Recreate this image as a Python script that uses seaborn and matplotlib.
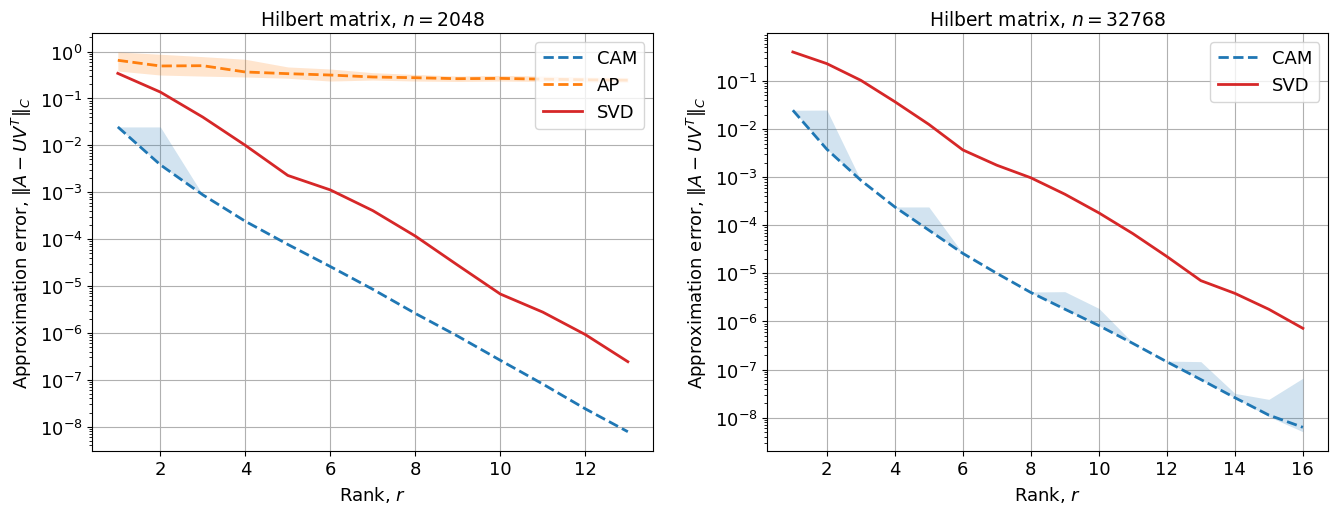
import numpy as np
import pandas as pd
import matplotlib
matplotlib.use("Agg")
import matplotlib.pyplot as plt
from matplotlib.ticker import LogLocator, NullFormatter
import seaborn as sns

# ---- data: left panel (n = 2048) ----
rank_left = [1, 2, 3, 4, 5, 6, 7, 8, 9, 10, 11, 12, 13]
cam_left = [2.47e-2, 3.85e-3, 8.8e-4, 2.4e-4, 7.7e-5, 2.6e-5, 8.5e-6, 2.6e-6,
            8.5e-7, 2.6e-7, 8.1e-8, 2.4e-8, 7.8e-9]
cam_left_hi = [2.47e-2, 2.47e-2, 8.8e-4, 2.4e-4, 7.7e-5, 2.6e-5, 8.5e-6, 2.6e-6,
               8.5e-7, 2.6e-7, 8.1e-8, 2.4e-8, 7.8e-9]
cam_left_lo = [2.47e-2, 3.85e-3, 8.8e-4, 2.4e-4, 7.7e-5, 2.6e-5, 8.5e-6, 2.6e-6,
               8.5e-7, 2.6e-7, 8.1e-8, 2.4e-8, 7.8e-9]
ap_left = [0.652, 0.493, 0.50, 0.367, 0.338, 0.316, 0.287, 0.277, 0.264, 0.268,
           0.258, 0.25, 0.245]
ap_left_hi = [0.98, 0.877, 0.78, 0.685, 0.47, 0.425, 0.355, 0.325, 0.30, 0.31,
              0.30, 0.285, 0.28]
ap_left_lo = [0.385, 0.316, 0.30, 0.287, 0.27, 0.235, 0.247, 0.235, 0.23, 0.235,
              0.23, 0.225, 0.22]
svd_left = [0.343, 0.137, 0.040, 0.010, 2.28e-3, 1.12e-3, 4.05e-4, 1.16e-4,
            2.77e-5, 6.74e-6, 2.77e-6, 9.2e-7, 2.43e-7]

# ---- data: right panel (n = 32768) ----
rank_right = [1, 2, 3, 4, 5, 6, 7, 8, 9, 10, 11, 12, 13, 14, 15, 16]
cam_right = [2.46e-2, 3.8e-3, 8.6e-4, 2.4e-4, 7.9e-5, 2.6e-5, 1.0e-5, 4.0e-6,
             1.8e-6, 8.2e-7, 3.5e-7, 1.45e-7, 6.2e-8, 2.6e-8, 1.13e-8, 6.3e-9]
cam_right_hi = [2.46e-2, 2.48e-2, 8.6e-4, 2.4e-4, 2.4e-4, 2.6e-5, 1.0e-5, 4.1e-6,
                4.16e-6, 1.87e-6, 3.6e-7, 1.5e-7, 1.46e-7, 3.2e-8, 2.4e-8, 6.6e-8]
cam_right_lo = [2.46e-2, 3.8e-3, 8.6e-4, 2.4e-4, 7.9e-5, 2.6e-5, 1.0e-5, 4.0e-6,
                1.8e-6, 8.2e-7, 3.5e-7, 1.45e-7, 6.2e-8, 2.6e-8, 1.05e-8, 5.1e-9]
svd_right = [0.40, 0.229, 0.103, 0.037, 0.0125, 3.68e-3, 1.77e-3, 9.7e-4,
             4.42e-4, 1.81e-4, 6.7e-5, 2.24e-5, 7.05e-6, 3.84e-6, 1.79e-6, 7.2e-7]

titles = ["Hilbert matrix, $n = 2048$", "Hilbert matrix, $n = 32768$"]
xlabel = "Rank, $r$"
ylabel = "Approximation error, $\\|A - UV^T\\|_C$"
xticks_left = [2, 4, 6, 8, 10, 12]
xticks_right = [2, 4, 6, 8, 10, 12, 14, 16]
ydecades_left = [-8, -7, -6, -5, -4, -3, -2, -1, 0]
ydecades_right = [-8, -7, -6, -5, -4, -3, -2, -1]

C_BLUE, C_ORANGE, C_RED = "#1f77b4", "#ff7f0e", "#d62728"

plt.rcParams.update({
    "font.family": ["DejaVu Sans"],
    "font.size": 13,
    "axes.titlesize": 13.5,
    "axes.labelsize": 13,
    "xtick.labelsize": 13,
    "ytick.labelsize": 13,
    "legend.fontsize": 13,
})

LW = 2.0

fig = plt.figure(figsize=(13.38, 5.06), dpi=100)
axL = fig.add_axes([0.069, 0.1073, 0.4193, 0.8255])
axR = fig.add_axes([0.5735, 0.1073, 0.4193, 0.8255])

# left panel
axL.fill_between(rank_left, cam_left_lo, cam_left_hi, color=C_BLUE, alpha=0.2, lw=0)
axL.fill_between(rank_left, ap_left_lo, ap_left_hi, color=C_ORANGE, alpha=0.2, lw=0)
sns.lineplot(x=rank_left, y=cam_left, ax=axL, color=C_BLUE, linestyle="--", label="CAM", lw=LW)
sns.lineplot(x=rank_left, y=ap_left, ax=axL, color=C_ORANGE, linestyle="--", label="AP", lw=LW)
sns.lineplot(x=rank_left, y=svd_left, ax=axL, color=C_RED, linestyle="-", label="SVD", lw=LW)

# right panel
axR.fill_between(rank_right, cam_right_lo, cam_right_hi, color=C_BLUE, alpha=0.2, lw=0)
sns.lineplot(x=rank_right, y=cam_right, ax=axR, color=C_BLUE, linestyle="--", label="CAM", lw=LW)
sns.lineplot(x=rank_right, y=svd_right, ax=axR, color=C_RED, linestyle="-", label="SVD", lw=LW)

for ax, t, xt, yd in zip([axL, axR], titles, [xticks_left, xticks_right],
                         [ydecades_left, ydecades_right]):
    ax.set_yscale("log")
    ylim = ax.get_ylim()
    ax.set_yticks([10.0 ** k for k in yd])
    ax.yaxis.set_minor_locator(LogLocator(base=10, subs=np.arange(2, 10), numticks=30))
    ax.yaxis.set_minor_formatter(NullFormatter())
    ax.set_ylim(ylim)
    ax.set_xticks(xt)
    ax.grid(True, which="major", color="#b0b0b0", lw=0.8)
    ax.set_axisbelow(True)
    ax.set_title(t)
    ax.set_xlabel(xlabel)
    ax.set_ylabel(ylabel)
    ax.legend(loc="upper right", handlelength=2.2)

fig.savefig("out.png", dpi=100)
